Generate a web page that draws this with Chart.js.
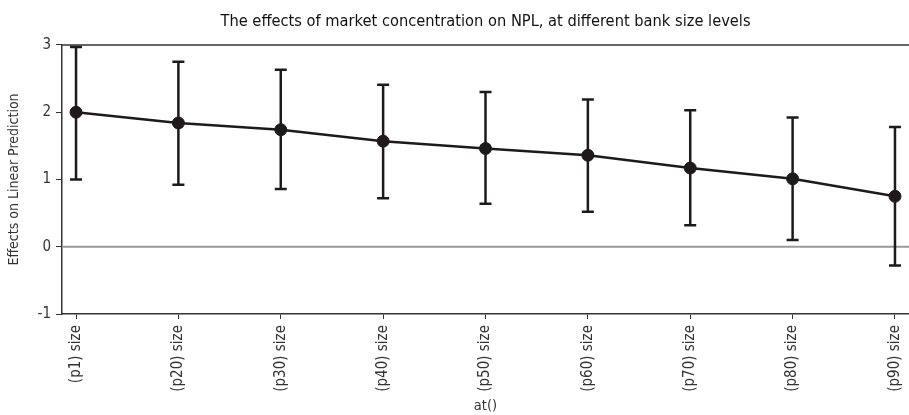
<!DOCTYPE html>
<html>
<head>
<meta charset="utf-8">
<script src="https://cdn.jsdelivr.net/npm/chart.js@4.4.1/dist/chart.umd.min.js"></script>
<style>
  html, body { margin: 0; padding: 0; background: #fff; }
  #wrap { width: 909px; height: 415px; }
</style>
</head>
<body>
<div id="wrap"><canvas id="chart"></canvas></div>
<script>
// Data read from the marginsplot
const categories = ["(p1) size", "(p20) size", "(p30) size", "(p40) size", "(p50) size",
                    "(p60) size", "(p70) size", "(p80) size", "(p90) size"];
const effects = [2.00, 1.84, 1.74, 1.57, 1.46, 1.36, 1.17, 1.01, 0.75];
const upperCI = [2.97, 2.75, 2.63, 2.41, 2.30, 2.19, 2.03, 1.92, 1.78];
const lowerCI = [1.00, 0.92, 0.86, 0.72, 0.64, 0.52, 0.32, 0.10, -0.28];
const yTicks = [-1, 0, 1, 2, 3];

const font = '"Liberation Sans Narrow", "DejaVu Sans Condensed", "Roboto", sans-serif';
const ink = "#1e1a1b";

// Error bars, zero line and top frame drawn through the chart's scales
const extras = {
  id: "extras",
  beforeDatasetsDraw(chart) {
    const { ctx, chartArea, scales: { x, y } } = chart;
    ctx.save();
    // top frame line
    ctx.strokeStyle = "#333";
    ctx.lineWidth = 1.5;
    ctx.beginPath();
    ctx.moveTo(chartArea.left, chartArea.top);
    ctx.lineTo(chartArea.right, chartArea.top);
    ctx.stroke();
    // zero reference line
    const y0 = y.getPixelForValue(0);
    ctx.strokeStyle = "#9a9a9a";
    ctx.lineWidth = 2;
    ctx.beginPath();
    ctx.moveTo(chartArea.left, y0);
    ctx.lineTo(chartArea.right, y0);
    ctx.stroke();
    // confidence intervals
    ctx.strokeStyle = ink;
    ctx.lineWidth = 2.5;
    effects.forEach((v, i) => {
      const px = x.getPixelForValue(i);
      const top = y.getPixelForValue(upperCI[i]);
      const bot = y.getPixelForValue(lowerCI[i]);
      ctx.beginPath();
      ctx.moveTo(px, top); ctx.lineTo(px, bot);
      ctx.moveTo(px - 6, top); ctx.lineTo(px + 6, top);
      ctx.moveTo(px - 6, bot); ctx.lineTo(px + 6, bot);
      ctx.stroke();
    });
    ctx.restore();
  }
};

new Chart(document.getElementById("chart"), {
  type: "line",
  data: {
    datasets: [{
      data: effects.map((v, i) => ({ x: i, y: v })),
      borderColor: ink,
      borderWidth: 2.5,
      pointRadius: 6,
      pointBackgroundColor: ink,
      pointBorderColor: ink,
      pointBorderWidth: 1,
      tension: 0,
      clip: false
    }]
  },
  options: {
    responsive: true,
    maintainAspectRatio: false,
    animation: false,
    layout: { padding: 0, autoPadding: false },
    plugins: {
      legend: { display: false },
      tooltip: { enabled: false },
      title: {
        display: true,
        fullSize: false,
        text: "The effects of market concentration on NPL, at different bank size levels",
        color: "#111",
        font: { family: font, size: 16.3, weight: "normal" },
        padding: { top: 12, bottom: 13.4 }
      }
    },
    scales: {
      x: {
        type: "linear",
        min: -0.137,
        max: categories.length - 1 + 0.137,
        afterBuildTicks(axis) { axis.ticks = categories.map((c, i) => ({ value: i })); },
        afterFit(axis) {
          axis.height = 101;
          axis.paddingLeft = 0;
          axis.paddingRight = 0;
        },
        ticks: {
          callback: (v) => categories[v],
          color: "#333",
          font: { family: font, size: 15 },
          minRotation: 90,
          maxRotation: 90,
          padding: 6
        },
        grid: { drawOnChartArea: false, tickLength: 5, tickColor: "#333", tickWidth: 1 },
        border: { color: "#333", width: 1.5 },
        title: {
          display: true,
          text: "at()",
          color: "#333",
          font: { family: font, size: 14.5 },
          padding: { top: 4, bottom: 0 }
        }
      },
      y: {
        min: -1,
        max: 3,
        afterBuildTicks(axis) { axis.ticks = yTicks.map(v => ({ value: v })); },
        afterFit(axis) {
          axis.width = 62;
          axis.paddingTop = 0;
          axis.paddingBottom = 0;
        },
        ticks: {
          color: "#333",
          font: { family: font, size: 15 },
          padding: 5
        },
        grid: { drawOnChartArea: false, tickLength: 6, tickColor: "#333", tickWidth: 1 },
        border: { color: "#333", width: 1.5 },
        title: {
          display: true,
          text: "Effects on Linear Prediction",
          color: "#333",
          font: { family: font, size: 14 },
          padding: { top: 6, bottom: 4 }
        }
      }
    }
  },
  plugins: [extras]
});
</script>
</body>
</html>
